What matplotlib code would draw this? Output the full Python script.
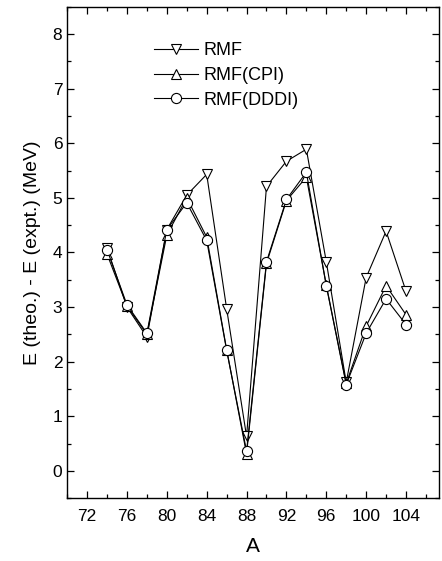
import numpy as np
import matplotlib
matplotlib.use("Agg")
import matplotlib.pyplot as plt
from matplotlib.ticker import MultipleLocator

plt.rcParams.update({
    "font.family": ["Liberation Sans", "DejaVu Sans"],
    "xtick.direction": "in", "ytick.direction": "in",
    "xtick.top": True, "ytick.right": True,
})

A = [74, 76, 78, 80, 82, 84, 86, 88, 90, 92, 94, 96, 98, 100, 102, 104]
rmf = [4.08, 3.00, 2.45, 4.42, 5.05, 5.43, 2.97, 0.63, 5.21, 5.67, 5.89,
       3.83, 1.62, 3.54, 4.39, 3.29]
rmf_cpi = [3.97, 3.02, 2.50, 4.32, 5.00, 4.28, 2.22, 0.31, 3.80, 4.95, 5.38,
           3.40, 1.60, 2.65, 3.39, 2.86]
rmf_dddi = [4.05, 3.04, 2.52, 4.42, 4.91, 4.22, 2.21, 0.36, 3.83, 4.97, 5.47,
            3.39, 1.58, 2.52, 3.15, 2.68]

fig = plt.figure(figsize=(4.42, 5.61), dpi=100)
ax = fig.add_axes([0.152, 0.112, 0.841, 0.876])

kw = dict(color="k", lw=0.8, mfc="white", mec="k", mew=0.8, ms=7.3)
ax.plot(A, rmf, marker="v", label="RMF", **kw)
ax.plot(A, rmf_cpi, marker="^", label="RMF(CPI)", **kw)
ax.plot(A, rmf_dddi, marker="o", label="RMF(DDDI)", **kw)

ax.set_xlim(70, 107.3)
ax.set_ylim(-0.5, 8.5)
ax.set_xticks(np.arange(72, 105, 4))
ax.xaxis.set_minor_locator(MultipleLocator(2))
ax.yaxis.set_major_locator(MultipleLocator(1))
ax.yaxis.set_minor_locator(MultipleLocator(0.5))
ax.tick_params(which="major", length=5, width=0.9, labelsize=12.5)
ax.tick_params(axis="x", which="major", pad=7.5)
ax.tick_params(which="minor", length=3, width=0.9)
for s in ax.spines.values():
    s.set_linewidth(1.0)

ax.set_xlabel("A", fontsize=15, labelpad=10)
ax.set_ylabel("E (theo.) - E (expt.) (MeV)", fontsize=14, labelpad=8)

ax.legend(loc="upper left", bbox_to_anchor=(0.215, 0.942), frameon=False,
          fontsize=13, handlelength=2.4, handletextpad=0.35,
          labelspacing=0.42, borderaxespad=0)

fig.savefig("out.png", dpi=100)
